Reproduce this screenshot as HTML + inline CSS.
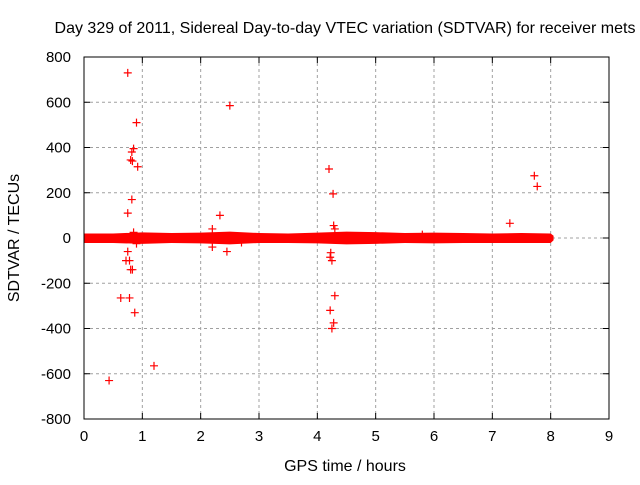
<!DOCTYPE html>
<html><head><meta charset="utf-8"><style>
body{margin:0;background:#fff}
svg text{font-family:"Liberation Sans",sans-serif;font-size:15px;fill:#000}
svg text.big{font-size:16px}
</style></head><body>
<svg id="chart" width="640" height="480"></svg>
<script>
const xTicks=[0,1,2,3,4,5,6,7,8,9];
const yTicks=[-800,-600,-400,-200,0,200,400,600,800];
const bandHours=[0,0.5,1,1.5,2,2.5,3,3.5,4,4.5,5,5.5,6,6.5,7,7.5,8,8.05];
const bandLow=[-22,-22,-26,-22,-24,-28,-22,-22,-24,-28,-26,-22,-24,-22,-22,-22,-22,-10];
const bandHigh=[20,20,25,22,24,28,22,20,24,28,26,22,24,22,20,22,20,10];
const outHours=[0.75,0.82,0.85,0.8,0.83,0.9,0.92,0.75,0.82,0.43,0.63,0.78,0.87,1.2,0.75,0.72,0.8,0.83,0.78,2.5,2.33,2.2,2.2,2.45,4.2,4.27,4.28,4.3,4.23,4.22,4.25,4.22,4.3,4.28,4.25,7.72,7.77,7.3,0.85,0.9,2.7,5.8];
const outValues=[730,380,395,345,340,510,315,110,170,-630,-265,-265,-330,-565,-60,-100,-140,-140,-100,585,100,40,-40,-60,305,195,55,40,-65,-85,-100,-320,-255,-375,-400,275,228,65,25,-25,-20,15];
const L=84,R=609,T=57,B=419;
const X=h=>L+(h-0)/(9-0)*(R-L);
const Y=v=>B-(v+800)/1600*(B-T);
const svg=document.getElementById('chart');
const NS='http://www.w3.org/2000/svg';
function mk(tag,attrs,parent){const e=document.createElementNS(NS,tag);for(const k in attrs)e.setAttribute(k,attrs[k]);(parent||svg).appendChild(e);return e;}
xTicks.forEach(t=>{
  if(t>0&&t<9){const g=mk('line',{x1:X(t),x2:X(t),y1:T,y2:B,stroke:'#a0a0a0','stroke-dasharray':'3,3'});
  
  }
  const tk=mk('line',{x1:X(t),x2:X(t),y1:B,y2:B-6,stroke:'#000'});
  
  
  const tk2=mk('line',{x1:X(t),x2:X(t),y1:T,y2:T+6,stroke:'#000'});
  
  
  const tx=mk('text',{x:X(t),y:B+22,'text-anchor':'middle'});tx.textContent=t;
  
  
});
yTicks.forEach(t=>{
  if(t>-800&&t<800){const g=mk('line',{x1:L,x2:R,y1:Y(t),y2:Y(t),stroke:'#a0a0a0','stroke-dasharray':'3,3'});
  
  }
  const tk=mk('line',{x1:L,x2:L+6,y1:Y(t),y2:Y(t),stroke:'#000'});
  
  
  const tk2=mk('line',{x1:R,x2:R-6,y1:Y(t),y2:Y(t),stroke:'#000'});
  
  
  const tx=mk('text',{x:L-13,y:Y(t)+5,'text-anchor':'end'});tx.textContent=t;
  
  
});
let pts=bandHours.map((h,i)=>X(h)+','+Y(bandHigh[i]));
pts=pts.concat(bandHours.map((h,i)=>X(h)+','+Y(bandLow[i])).reverse());
const band=mk('polygon',{points:pts.join(' '),fill:'#ff0000'});


outHours.forEach((h,i)=>{
  const x=X(h),y=Y(outValues[i]);
  const p=mk('path',{d:`M${x-4},${y}H${x+4}M${x},${y-4}V${y+4}`,stroke:'#ff0000','stroke-width':1.2,fill:'none'});
  
  
});
const fr=mk('rect',{x:L,y:T,width:R-L,height:B-T,fill:'none',stroke:'#000'});


const ti=mk('text',{x:345,y:33,'text-anchor':'middle','class':'big'});
ti.textContent='Day 329 of 2011, Sidereal Day-to-day VTEC variation (SDTVAR) for receiver mets';


const xl=mk('text',{x:345,y:471,'text-anchor':'middle','class':'big'});
xl.textContent='GPS time / hours';


const yl=mk('text',{x:0,y:0,'text-anchor':'middle','class':'big',transform:'translate(19,238) rotate(-90)'});
yl.textContent='SDTVAR / TECUs';


</script>
</body></html>
